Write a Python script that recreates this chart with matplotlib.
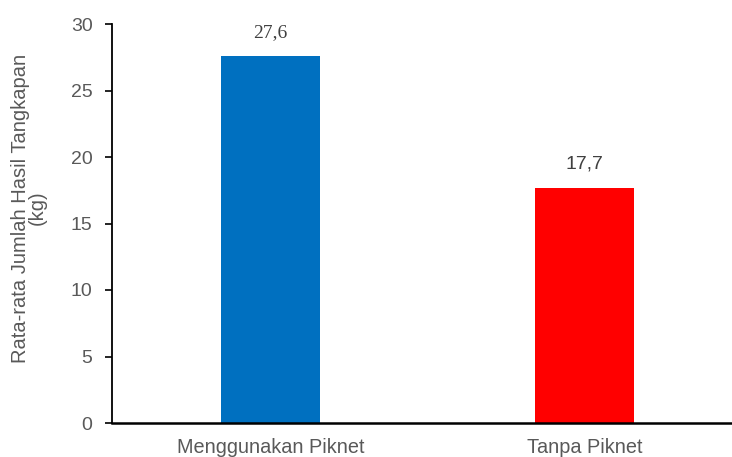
import matplotlib.pyplot as plt

# Data
categories = ['Menggunakan Piknet', 'Tanpa Piknet']
values = [27.6, 17.7]
value_labels = ['27,6', '17,7']
bar_colors = ['#0070C0', '#FF0000']
yticks = [0, 5, 10, 15, 20, 25, 30]

fig = plt.figure(figsize=(7.32, 4.57), dpi=100)
ax = fig.add_axes([112 / 732, 1 - 423 / 457, 1 - 112 / 732, (423 - 24) / 457])

x = list(range(len(categories)))
bars = ax.bar(x, values, width=0.315, color=bar_colors)

ax.set_xlim(-0.505, 1.47)
ax.set_ylim(0, 30)
ax.set_yticks(yticks)
ax.set_yticklabels([str(t) for t in yticks], fontsize=14, color='#595959',
                   fontfamily='Liberation Sans')
ax.set_xticks(x)
ax.set_xticklabels(categories, fontsize=14.3, color='#595959',
                   fontfamily='Liberation Sans')

ax.tick_params(axis='y', direction='out', length=5, width=1.2, pad=9)
ax.tick_params(axis='x', length=0, pad=11)

for s in ['top', 'right']:
    ax.spines[s].set_visible(False)
ax.spines['left'].set_linewidth(1.3)
ax.spines['bottom'].set_linewidth(1.8)

# Label nilai
ax.text(x[0], values[0] + 1.1, value_labels[0], ha='center', va='bottom',
        fontsize=14, color='#404040', fontfamily='Liberation Serif')
ax.text(x[1], values[1] + 1.1, value_labels[1], ha='center', va='bottom',
        fontsize=14, color='#404040', fontfamily='Liberation Sans')

fig.text(29 / 732, 1 - 208 / 457, 'Rata-rata Jumlah Hasil Tangkapan\n(kg)',
         rotation=90, ha='center', va='center', fontsize=14.5, color='#595959',
         fontfamily='Liberation Sans', linespacing=0.85)

fig.savefig('out.png', dpi=100)
